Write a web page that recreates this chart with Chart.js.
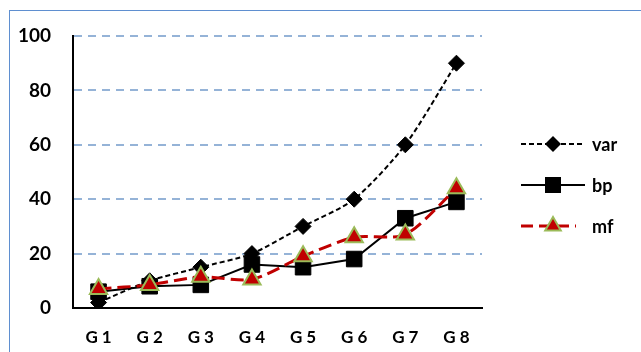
<!DOCTYPE html>
<html>
<head>
<meta charset="utf-8">
<script src="https://cdn.jsdelivr.net/npm/chart.js@4.4.1/dist/chart.umd.min.js"></script>
<style>
  html, body { margin: 0; padding: 0; background: #fff; overflow: hidden; }
  #wrap { position: relative; width: 641px; height: 352px; }
  #frame { position: absolute; left: 9px; top: 10px; width: 700px; height: 400px;
           border: 1.5px solid #5f8fd0; box-sizing: border-box; pointer-events: none; }
  canvas { position: absolute; left: 0; top: 0; }
</style>
</head>
<body>
<div id="wrap">
  <canvas id="c" width="641" height="352"></canvas>
  <div id="frame"></div>
</div>
<script>
const categories = ['G 1', 'G 2', 'G 3', 'G 4', 'G 5', 'G 6', 'G 7', 'G 8'];
const varValues = [2, 10, 15, 20, 30, 40, 60, 90];
const bpValues  = [6, 8, 8.5, 16, 15, 18, 33, 39];
const mfValues  = [7, 8.5, 11.5, 10.5, 19, 26, 27, 44];
const yTicks = [0, 20, 40, 60, 80, 100];

const tickFont = { family: 'Lato, "Open Sans", sans-serif', weight: 'bold' };

// Legend drawn at the right: line sample, marker, label
const sideLegend = {
  id: 'sideLegend',
  afterDraw(chart) {
    const ctx = chart.ctx;
    const rows = [
      { label: 'var', y: 144, x2: 585, color: '#000', width: 2, dash: [5, 3], shape: 'diamond' },
      { label: 'bp',  y: 185, x2: 585, color: '#000', width: 2, dash: [], shape: 'square' },
      { label: 'mf',  y: 226, x2: 576, color: '#c00000', width: 3, dash: [12, 6], shape: 'triangle' }
    ];
    const x1 = 521, cx = 553;
    rows.forEach(r => {
      ctx.save();
      ctx.strokeStyle = r.color;
      ctx.lineWidth = r.width;
      ctx.setLineDash(r.dash);
      ctx.beginPath();
      ctx.moveTo(x1, r.y);
      ctx.lineTo(r.x2, r.y);
      ctx.stroke();
      ctx.setLineDash([]);
      ctx.beginPath();
      if (r.shape === 'diamond') {
        ctx.moveTo(cx, r.y - 8); ctx.lineTo(cx + 8, r.y);
        ctx.lineTo(cx, r.y + 8); ctx.lineTo(cx - 8, r.y);
        ctx.closePath();
        ctx.fillStyle = '#000'; ctx.fill();
      } else if (r.shape === 'square') {
        ctx.rect(cx - 8, r.y - 8, 16, 16);
        ctx.fillStyle = '#000'; ctx.fill();
      } else {
        const rad = 9;
        ctx.moveTo(cx, r.y - rad);
        ctx.lineTo(cx + rad * 0.866, r.y + rad * 0.5);
        ctx.lineTo(cx - rad * 0.866, r.y + rad * 0.5);
        ctx.closePath();
        ctx.fillStyle = '#c00000'; ctx.fill();
        ctx.lineWidth = 2; ctx.strokeStyle = '#9bbb59'; ctx.stroke();
      }
      ctx.fillStyle = '#000';
      ctx.font = 'bold 18px Lato, "Open Sans", sans-serif';
      ctx.textBaseline = 'middle';
      ctx.textAlign = 'left';
      ctx.fillText(r.label, 592, r.y + 1);
      ctx.restore();
    });
  }
};

new Chart(document.getElementById('c'), {
  type: 'line',
  data: {
    labels: categories,
    datasets: [
      {
        label: 'var', data: varValues, order: 3,
        borderColor: '#000', borderWidth: 2, borderDash: [5, 3],
        pointStyle: 'rectRot', pointRadius: 8, pointHoverRadius: 8,
        pointBackgroundColor: '#000', pointBorderColor: '#000', pointBorderWidth: 1,
        tension: 0.25, fill: false
      },
      {
        label: 'bp', data: bpValues, order: 2,
        borderColor: '#000', borderWidth: 2,
        pointStyle: 'rect', pointRadius: 11, pointHoverRadius: 11,
        pointBackgroundColor: '#000', pointBorderColor: '#000', pointBorderWidth: 1,
        tension: 0, fill: false
      },
      {
        label: 'mf', data: mfValues, order: 1,
        borderColor: '#c00000', borderWidth: 3, borderDash: [13, 6],
        pointStyle: 'triangle', pointRadius: 10, pointHoverRadius: 10,
        pointBackgroundColor: '#c00000', pointBorderColor: '#9bbb59', pointBorderWidth: 2,
        tension: 0.25, fill: false
      }
    ]
  },
  options: {
    responsive: false,
    animation: false,
    events: [],
    layout: { padding: { left: 0, right: 159, top: 36, bottom: 0 } },
    plugins: { legend: { display: false }, tooltip: { enabled: false } },
    scales: {
      x: {
        offset: true,
        grid: { display: false },
        border: { display: true, color: '#000', width: 2 },
        ticks: { color: '#000', font: { ...tickFont, size: 17 }, padding: 11 },
        afterFit(scale) { scale.height = 44; }
      },
      y: {
        min: 0, max: 100,
        afterBuildTicks(scale) { scale.ticks = yTicks.map(v => ({ value: v })); },
        grid: {
          drawTicks: false,
          lineWidth: 2,
          color: ctx => ctx.tick && ctx.tick.value === 0 ? 'rgba(0,0,0,0)' : '#95b3d7'
        },
        border: { display: true, color: '#000', width: 2, dash: [8, 6] },
        ticks: { color: '#000', font: { ...tickFont, size: 19 }, padding: 22 },
        afterFit(scale) { scale.width = 73; }
      }
    }
  },
  plugins: [sideLegend]
});
</script>
</body>
</html>
